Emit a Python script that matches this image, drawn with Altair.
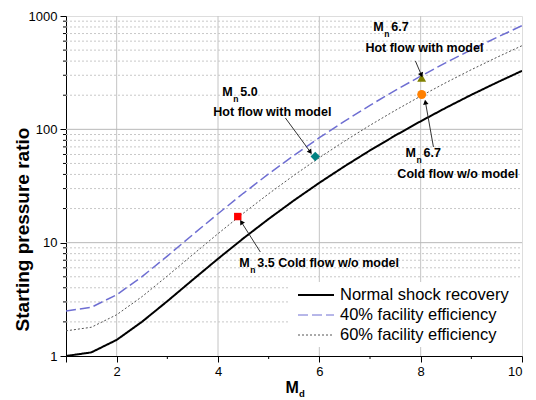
import altair as alt
import pandas as pd

# ---- data ----
mach = [1.0, 1.5, 2.0, 2.5, 3.0, 3.5, 4.0, 4.5, 5.0, 5.5, 6.0, 6.5, 7.0, 7.5, 8.0, 8.5, 9.0, 9.5, 10.0]
normal_shock = [1.0, 1.076, 1.387, 2.004, 3.046, 4.697, 7.205, 10.91, 16.20, 23.61, 33.73,
                47.28, 65.14, 88.27, 117.8, 155.1, 201.6, 258.4, 328.3]
eff40 = [2.5, 2.69, 3.47, 5.01, 7.62, 11.74, 18.01, 27.27, 40.5, 59.0, 84.3,
         118.2, 162.9, 220.7, 294.5, 387.8, 504.0, 646.0, 821.0]
eff60 = [1.667, 1.793, 2.312, 3.34, 5.08, 7.83, 12.01, 18.18, 27.0, 39.35, 56.2,
         78.8, 108.6, 147.1, 196.3, 258.5, 336.0, 431.0, 547.0]

series_names = ["Normal shock recovery", "40% facility efficiency", "60% facility efficiency"]
series_colors = ["#000000", "#6e6ed2", "#555555"]
series_dash = [[1, 0], [10, 4], [2, 2]]
series_width = [2.0, 1.0, 1.0]

pt_x = [4.39, 5.92, 8.02, 8.02]
pt_y = [17.0, 57.5, 285.0, 203.0]
pt_shape = ["square", "diamond", "triangle-up", "circle"]
pt_color = ["#ff0000", "#008080", "#808000", "#ff8000"]
pt_size = [55, 90, 80, 80]

# arrows: start -> tip (data coords)
arr_x = [4.836, 5.33, 7.896, 8.252]
arr_y = [8.27, 126.0, 401.0, 69.9]
arr_x2 = [4.461, 5.823, 8.015, 8.094]
arr_y2 = [15.2, 63.1, 301.0, 174.0]
arr_ang = [328, 144, 157, 350]

# annotation texts
big_x = [4.086, 4.441, 3.908, 7.065, 7.42, 6.909, 7.70, 8.055, 7.54, 4.421, 4.777]
big_y = [213, 213, 142, 800, 800, 522, 61.8, 61.8, 40.4, 6.62, 6.62]
big_t = ["M", "5.0", "Hot flow with model", "M", "6.7", "Hot flow with model",
         "M", "6.7", "Cold flow w/o model", "M", "3.5 Cold flow w/o model"]
sub_x = [4.303, 7.282, 7.917, 4.638]
sub_y = [185, 694, 53.6, 5.74]
sub_t = ["n", "n", "n", "n"]

x_ticks = [1, 2, 4, 6, 8, 10]
x_minor = [3, 5, 7, 9]
y_ticks = [1, 10, 100, 1000]
v_grid = [2, 4, 6, 8]
h_grid = [10, 100]
h_minor = [m * d for d in (1, 10, 100) for m in range(2, 10)]

FONT = "Liberation Sans"
W, H = 456, 340

xs = alt.Scale(domain=[1, 10], nice=False)
ys = alt.Scale(type="log", domain=[1, 1000], nice=False)

rows = []
for name, vals in zip(series_names, [normal_shock, eff40, eff60]):
    for m, v in zip(mach, vals):
        rows.append({"M": m, "v": v, "series": name})
curves_df = pd.DataFrame(rows)

# ---- grid ----
vgrid = alt.Chart(pd.DataFrame({"x": v_grid})).mark_rule(color="#c4c4c4", strokeWidth=1).encode(
    x=alt.X("x:Q", scale=xs), y=alt.value(0), y2=alt.value(H))
hgrid = alt.Chart(pd.DataFrame({"y": h_grid})).mark_rule(color="#b8b8b8", strokeWidth=1).encode(
    y=alt.Y("y:Q", scale=ys), x=alt.value(0), x2=alt.value(W))
hminor = alt.Chart(pd.DataFrame({"y": h_minor})).mark_rule(
    color="#c8c8c8", strokeWidth=1, strokeDash=[2, 2]).encode(
    y=alt.Y("y:Q", scale=ys), x=alt.value(0), x2=alt.value(W))

# ---- legend box ----
leg_box = alt.Chart(pd.DataFrame({"a": [0]})).mark_rect(fill="white").encode(
    x=alt.value(224), x2=alt.value(456), y=alt.value(266), y2=alt.value(331))

# ---- curves ----
curves = alt.Chart(curves_df).mark_line(clip=True).encode(
    x=alt.X("M:Q", scale=xs,
            axis=alt.Axis(values=x_ticks, title=None, tickSize=6, labelFontSize=13,
                          labelExpr="datum.value == 1 ? '' : datum.label",
                          domainColor="black", tickColor="black", labelColor="black",
                          labelPadding=3, grid=False, labelFont=FONT)),
    y=alt.Y("v:Q", scale=ys,
            axis=alt.Axis(values=y_ticks, format="d", title="Starting pressure ratio",
                          titleFontSize=19, titleFontWeight="bold", titleFont=FONT,
                          titleX=-34, titleY=213, titleBaseline="bottom", titleAngle=270,
                          titleAlign="center",
                          tickSize=6, labelFontSize=13, labelFont=FONT,
                          domainColor="black", tickColor="black", labelColor="black",
                          grid=False, labelPadding=3)),
    color=alt.Color("series:N", scale=alt.Scale(domain=series_names, range=series_colors), legend=None),
    strokeDash=alt.StrokeDash("series:N", scale=alt.Scale(domain=series_names, range=series_dash), legend=None),
    strokeWidth=alt.StrokeWidth("series:N", scale=alt.Scale(domain=series_names, range=series_width), legend=None),
    detail="series:N",
)

# ---- minor ticks ----
xminor_ticks = alt.Chart(pd.DataFrame({"x": x_minor})).mark_rule(color="black").encode(
    x=alt.X("x:Q", scale=xs), y=alt.value(H), y2=alt.value(H + 3))
yminor_ticks = alt.Chart(pd.DataFrame({"y": h_minor})).mark_rule(color="black").encode(
    y=alt.Y("y:Q", scale=ys), x=alt.value(-3), x2=alt.value(0))

# ---- points ----
pts_df = pd.DataFrame({"x": pt_x, "y": pt_y, "shape": pt_shape, "color": pt_color, "size": pt_size})
points = alt.Chart(pts_df).mark_point(filled=True, opacity=1).encode(
    x=alt.X("x:Q", scale=xs), y=alt.Y("y:Q", scale=ys),
    shape=alt.Shape("shape:N", scale=None), color=alt.Color("color:N", scale=None),
    size=alt.Size("size:Q", scale=None))

# ---- arrows ----
arr_df = pd.DataFrame({"x": arr_x, "y": arr_y, "x2": arr_x2, "y2": arr_y2, "ang": arr_ang})
arrow_lines = alt.Chart(arr_df).mark_rule(color="#333333", strokeWidth=1).encode(
    x=alt.X("x:Q", scale=xs), y=alt.Y("y:Q", scale=ys), x2="x2:Q", y2="y2:Q")
arrow_heads = alt.Chart(arr_df).mark_point(shape="triangle-up", filled=True, color="black",
                                           opacity=1, size=30).encode(
    x=alt.X("x2:Q", scale=xs), y=alt.Y("y2:Q", scale=ys), angle=alt.Angle("ang:Q", scale=None))

# ---- annotation texts ----
big_df = pd.DataFrame({"x": big_x, "y": big_y, "t": big_t})
big_text = alt.Chart(big_df).mark_text(align="left", baseline="middle", font=FONT, fontSize=12.5,
                                       fontWeight="bold", color="black").encode(
    x=alt.X("x:Q", scale=xs), y=alt.Y("y:Q", scale=ys), text="t:N")
sub_df = pd.DataFrame({"x": sub_x, "y": sub_y, "t": sub_t})
sub_text = alt.Chart(sub_df).mark_text(align="left", baseline="middle", font=FONT, fontSize=8.5,
                                       fontWeight="bold", color="black").encode(
    x=alt.X("x:Q", scale=xs), y=alt.Y("y:Q", scale=ys), text="t:N")

# ---- x axis title M_d ----
xt_main = alt.Chart(pd.DataFrame({"x": [5.33], "t": ["M"]})).mark_text(
    align="left", baseline="middle", font=FONT, fontSize=16, fontWeight="bold").encode(
    x=alt.X("x:Q", scale=xs), y=alt.value(372), text="t:N")
xt_sub = alt.Chart(pd.DataFrame({"x": [5.60], "t": ["d"]})).mark_text(
    align="left", baseline="middle", font=FONT, fontSize=9.5, fontWeight="bold").encode(
    x=alt.X("x:Q", scale=xs), y=alt.value(378), text="t:N")

# ---- custom legend ----
leg_rows_y = [279, 299, 319]
leg_layers = []
for name, col, dash, sw, yy in zip(series_names, series_colors, series_dash, series_width, leg_rows_y):
    leg_layers.append(alt.Chart(pd.DataFrame({"s": [name]})).mark_rule(
        color=col, strokeDash=dash, strokeWidth=sw).encode(
        x=alt.value(232), x2=alt.value(268), y=alt.value(yy)))
    leg_layers.append(alt.Chart(pd.DataFrame({"s": [name]})).mark_text(
        align="left", baseline="middle", font=FONT, fontSize=16.5, color="black").encode(
        x=alt.value(274), y=alt.value(yy), text="s:N"))

chart = alt.layer(
    vgrid, hgrid, hminor, leg_box, curves, xminor_ticks, yminor_ticks,
    arrow_lines, points, arrow_heads, big_text, sub_text, xt_main, xt_sub, *leg_layers
).properties(
    width=W, height=H,
    autosize=alt.AutoSizeParams(type="none"),
    padding={"left": 66, "top": 16, "right": 14, "bottom": 44},
).configure_view(stroke=None).configure(font=FONT, background="white")

chart.save("out.html", embed_options={"renderer": "svg", "actions": False})
